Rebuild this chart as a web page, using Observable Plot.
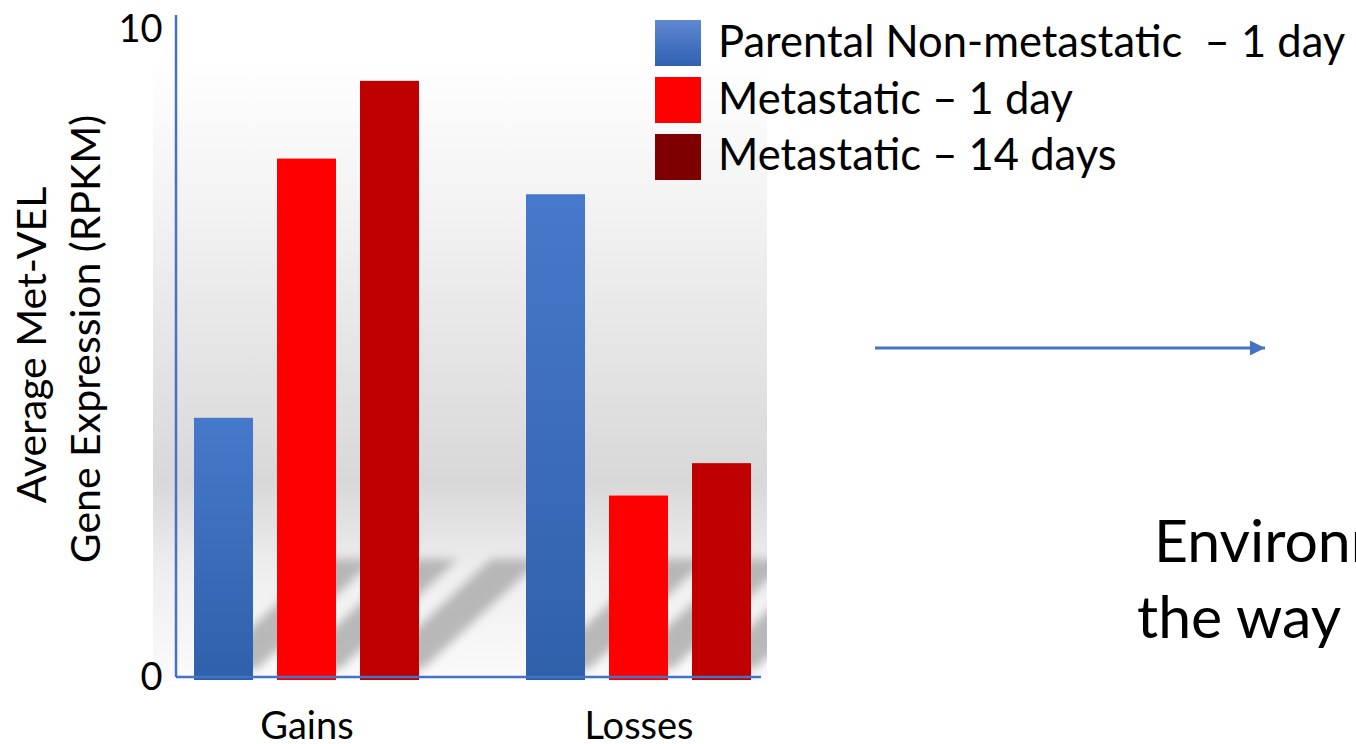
<!DOCTYPE html>
<html>
<head>
<meta charset="utf-8">
<script src="https://cdn.jsdelivr.net/npm/d3@7"></script>
<script src="https://cdn.jsdelivr.net/npm/@observablehq/plot@0.6"></script>
<style>
  html, body { margin: 0; padding: 0; background: #fff; overflow: hidden; }
  #wrap { position: relative; width: 1356px; height: 744px; }
</style>
</head>
<body>
<div id="wrap"></div>
<script>
// ---- data ----
const groups = ["Gains", "Losses"];
const series = ["Parental Non-metastatic  \u2013 1 day", "Metastatic \u2013 1 day", "Metastatic \u2013 14 days"];
const gainsValues = [4.0, 8.0, 9.2];
const lossesValues = [7.45, 2.8, 3.3];
const barColors = ["url(#blueGrad)", "#FF0000", "#C00000"];
const legendColors = ["url(#legBlue)", "#FF0000", "#7F0000"];
const yTicks = [0, 10];
const yLabelLines = ["Average Met-VEL", "Gene Expression (RPKM)"];
const sideLines = ["Environment", "the way"];

const FONT = "Lato, 'Open Sans', sans-serif";

// build table
const rows = [];
[gainsValues, lossesValues].forEach((vals, gi) => {
  vals.forEach((v, si) => rows.push({group: groups[gi], series: series[si], si, key: groups[gi] + "|" + si, value: v}));
});
const xDomain = ["Gains|0", "Gains|1", "Gains|2", "gap", "Losses|0", "Losses|1", "Losses|2"];

const W = 1356, H = 744;
const plot = Plot.plot({
  width: W, height: H,
  marginTop: 29, marginBottom: 67, marginLeft: 176, marginRight: 587,
  style: {fontFamily: FONT, background: "transparent", overflow: "visible"},
  x: {domain: xDomain, paddingInner: 0.29, paddingOuter: 0.217, axis: null},
  y: {domain: [0, 10], label: null},
  marks: [
    Plot.axisY({ticks: yTicks, tickSize: 0, tickPadding: 14, fontSize: 38, label: null, tickFormat: d => String(d), fill: "#000"}),
    ...series.map((s, si) => Plot.barY(rows.filter(r => r.si === si), {x: "key", y: "value", fill: barColors[si], insetBottom: -3})),
    Plot.text(groups, {x: g => g + "|1", y: () => 0, text: d => d, dy: 49, fontSize: 38, fill: "#000"})
  ]
});

const svg = d3.select(plot);
const defs = svg.insert("defs", ":first-child");
function grad(id, stops) {
  const g = defs.append("linearGradient").attr("id", id).attr("x1", 0).attr("y1", 0).attr("x2", 0).attr("y2", 1);
  stops.forEach(([o, c]) => g.append("stop").attr("offset", o).attr("stop-color", c));
}
grad("bgGrad", [["0%", "#ffffff"], ["25%", "#f2f2f2"], ["55%", "#e0e0e0"], ["68%", "#d8d8d8"], ["82%", "#eeeeee"], ["100%", "#fbfbfb"]]);
grad("blueGrad", [["0%", "#4679cb"], ["100%", "#2f60aa"]]);
grad("legBlue", [["0%", "#6089d2"], ["100%", "#2f60b2"]]);
const blur = defs.append("filter").attr("id", "blur")
  .attr("filterUnits", "userSpaceOnUse").attr("x", 100).attr("y", 450).attr("width", 800).attr("height", 300);
blur.append("feGaussianBlur").attr("stdDeviation", 5);

const xs = plot.scale("x"), ys = plot.scale("y");
const y0 = ys.apply(0);
const panel = {x: 153, y: 58, w: 614, h: y0 + 4 - 58};
defs.append("clipPath").attr("id", "panelClip").append("rect")
  .attr("x", panel.x).attr("y", panel.y).attr("width", panel.w).attr("height", panel.h);

// background panel and floor shadows (placed behind the bars)
const back = svg.insert("g", "defs + *");
back.append("rect").attr("x", panel.x).attr("y", panel.y).attr("width", panel.w).attr("height", panel.h).attr("fill", "url(#bgGrad)");
const sh = back.append("g").attr("clip-path", "url(#panelClip)").append("g")
  .attr("filter", "url(#blur)").attr("fill", "#a9a9a9").attr("fill-opacity", 0.8);
rows.forEach(r => {
  const xl = xs.apply(r.key), xr = xl + xs.bandwidth;
  const L = 118;
  sh.append("path").attr("d", `M${xr - 46},${y0 - 8} L${xr + 4},${y0 - 8} L${xr + 4 + L},${y0 - L} L${xr - 46 + L},${y0 - L} Z`);
});

// axis lines
svg.append("line").attr("x1", 176).attr("x2", 176).attr("y1", 15).attr("y2", y0).attr("stroke", "#4472C4").attr("stroke-width", 2.5);
svg.append("line").attr("x1", 176).attr("x2", 761).attr("y1", y0).attr("y2", y0).attr("stroke", "#4472C4").attr("stroke-width", 2.5);

// y axis title (two lines, rotated)
const yl = svg.append("g").attr("font-family", FONT).attr("font-size", 41).attr("fill", "#000").attr("text-anchor", "middle");
yl.append("text").attr("transform", "translate(46,345) rotate(-90)").text(yLabelLines[0]);
yl.append("text").attr("transform", "translate(100,339) rotate(-90)").text(yLabelLines[1]);

// legend
const lg = svg.append("g").attr("font-family", FONT).attr("font-size", 43.5).attr("fill", "#000").attr("text-anchor", "start");
series.forEach((s, i) => {
  lg.append("rect").attr("x", 655).attr("y", 20 + i * 57).attr("width", 46).attr("height", 46).attr("fill", legendColors[i]);
  lg.append("text").attr("x", 718).attr("y", 57 + i * 56.5).style("white-space", "pre").text(s);
});

// arrow
defs.append("marker").attr("id", "ah").attr("viewBox", "0 0 10 10").attr("refX", 10).attr("refY", 5)
  .attr("markerWidth", 5.5).attr("markerHeight", 5.5).attr("markerUnits", "strokeWidth").attr("orient", "auto")
  .append("path").attr("d", "M0,0 L10,5 L0,10 Z").attr("fill", "#4472C4");
svg.append("line").attr("x1", 875).attr("x2", 1265).attr("y1", 348).attr("y2", 348)
  .attr("stroke", "#4472C4").attr("stroke-width", 2.8).attr("marker-end", "url(#ah)");

// side text (cut by the page edge in the original)
const st = svg.append("g").attr("font-family", FONT).attr("font-size", 59).attr("fill", "#000").attr("text-anchor", "start");
st.append("text").attr("x", 1154).attr("y", 562).text(sideLines[0]);
st.append("text").attr("x", 1137).attr("y", 638).text(sideLines[1]);

document.getElementById("wrap").appendChild(plot);
</script>
</body>
</html>
